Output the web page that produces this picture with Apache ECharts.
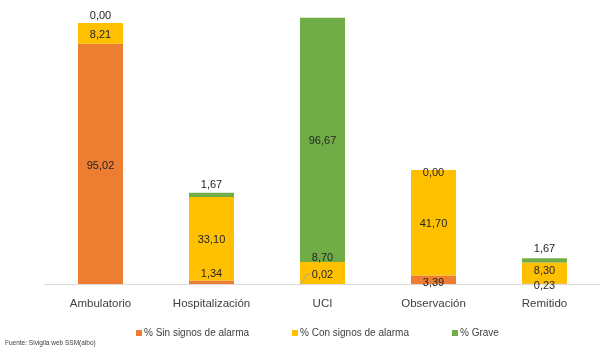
<!DOCTYPE html>
<html>
<head>
<meta charset="utf-8">
<script src="https://cdn.jsdelivr.net/npm/echarts@6/dist/echarts.min.js"></script>
<style>
html,body{margin:0;padding:0;background:#fff;}
#c{width:600px;height:351px;}
</style>
</head>
<body>
<div id="c"></div>
<script>
const categories = ['Ambulatorio', 'Hospitalización', 'UCI', 'Observación', 'Remitido'];
const sinSignos = [95.02, 1.34, 0.02, 3.39, 0.23];
const conSignos = [8.21, 33.10, 8.70, 41.70, 8.30];
const grave = [0.00, 1.67, 96.67, 0.00, 1.67];
const seriesNames = ['% Sin signos de alarma', '% Con signos de alarma', '% Grave'];

// label vertical nudges (px) per series / category, mimicking the reference placement
const sinOffsets = [2, -8, -9, 3, 2];
const conOffsets = [1, 1, -15, 1, -2];
const graveOffsets = [-7, -10, 1, 3, -11];

const FONT = '"Liberation Sans", Arial, sans-serif';
const colors = ['#ED7D31', '#FFC000', '#70AD47'];

function fmt(v) { return Number(v).toFixed(2).replace('.', ','); }

function build(values, offsets) {
  return values.map((v, i) => ({ value: v, label: { offset: [0, offsets[i]] } }));
}

const chart = echarts.init(document.getElementById('c'), null, { renderer: 'canvas' });

const labelBase = {
  show: true,
  position: 'inside',
  color: '#262626',
  fontFamily: FONT,
  fontSize: 11,
  formatter: p => fmt(p.value)
};

const series = [sinSignos, conSignos, grave].map((vals, k) => ({
  name: seriesNames[k],
  type: 'bar',
  stack: 'total',
  barWidth: 45,
  itemStyle: { color: colors[k] },
  label: Object.assign({}, labelBase),
  emphasis: { disabled: true },
  data: build(vals, [sinOffsets, conOffsets, graveOffsets][k])
}));

const legendLefts = [136, 292, 452];
const legends = seriesNames.map((n, k) => ({
  data: [n],
  left: legendLefts[k],
  top: 328,
  icon: 'rect',
  itemWidth: 6,
  itemHeight: 6,
  padding: 0,
  selectedMode: false,
  textStyle: { fontFamily: FONT, fontSize: 10, color: '#404040', padding: [0, 0, 0, -3] }
}));

chart.setOption({
  animation: false,
  backgroundColor: '#fff',
  color: colors,
  grid: { left: 45, width: 560, top: 6, height: 278, containLabel: false },
  xAxis: {
    type: 'category',
    data: categories,
    axisLine: { show: true, lineStyle: { color: '#D9D9D9', width: 1 } },
    axisTick: { show: false },
    axisLabel: { color: '#404040', fontFamily: FONT, fontSize: 11.5, margin: 14 }
  },
  yAxis: {
    type: 'value',
    min: 0,
    max: 110,
    show: false,
    splitLine: { show: false }
  },
  legend: legends,
  series: series
});

// leader line for the tiny UCI "0,02" label, anchored on the library's own pixel mapping
const base = chart.convertToPixel({ gridIndex: 0 }, [categories[2], 0]);
const cx = base[0], by = base[1];
chart.setOption({
  graphic: [
    {
      type: 'text',
      left: 5,
      top: 340,
      style: { text: 'Fuente: Sivigila web SSM(aibo)', fontFamily: FONT, fontSize: 6.5, fill: '#404040' }
    },
    {
      type: 'polyline',
      shape: { points: [[cx - 22, by], [cx - 15, by - 10], [cx - 12, by - 10]] },
      style: { stroke: '#A6A6A6', lineWidth: 1, fill: null },
      z: 10
    }
  ]
});
</script>
</body>
</html>
